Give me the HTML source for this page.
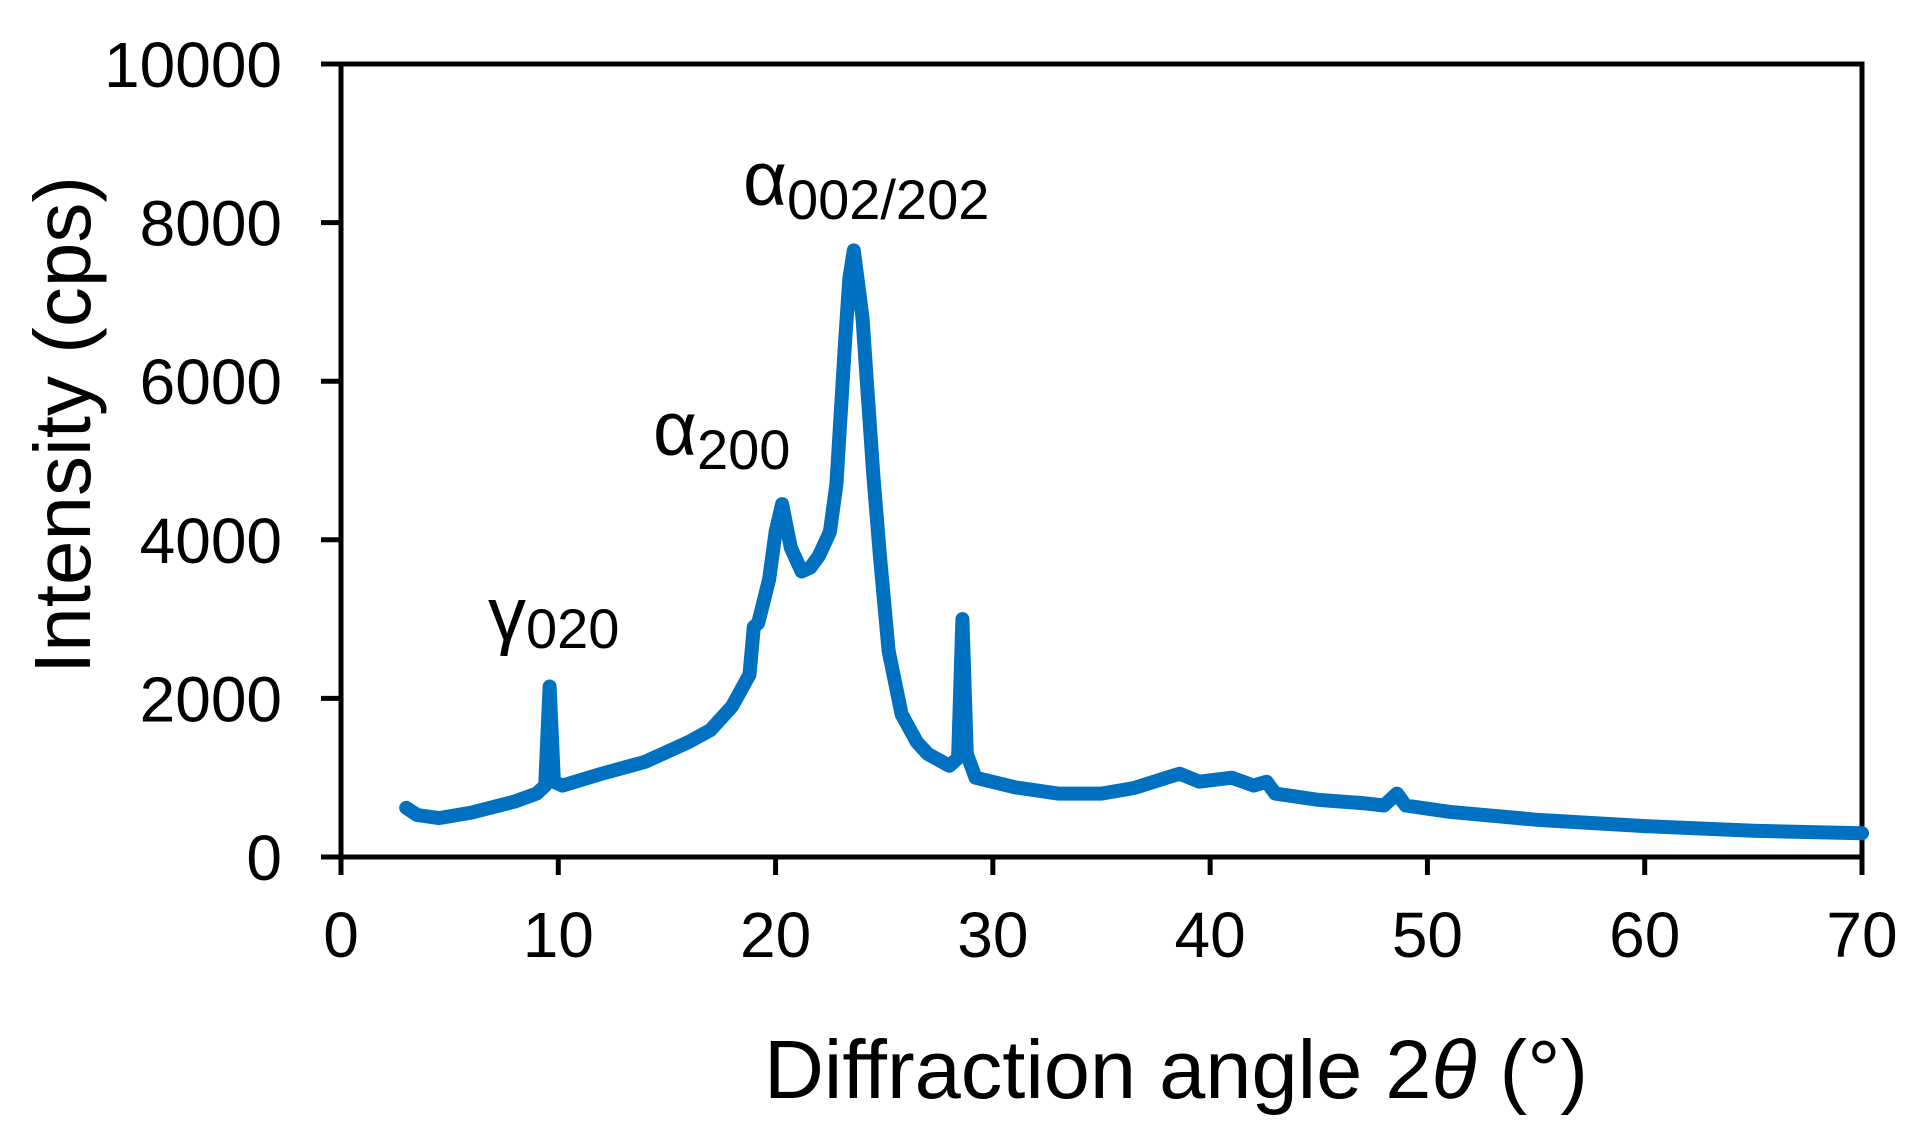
<!DOCTYPE html>
<html><head><meta charset="utf-8"><style>
html,body{margin:0;padding:0;background:#fff;width:1911px;height:1141px;overflow:hidden}
svg{display:block;font-family:"Liberation Sans",sans-serif}
</style></head><body>
<svg id="chart" width="1911" height="1141">
<g id="axes"></g><g id="series"></g>
<text transform="translate(90,425) rotate(-90)" text-anchor="middle" font-size="80">Intensity (cps)</text>
<text x="1176" y="1098" text-anchor="middle" font-size="83">Diffraction angle 2<tspan font-style="italic">θ</tspan> (°)</text>
<text x="488" y="640" font-size="76">γ<tspan font-size="56" dy="8">020</tspan></text>
<text x="653" y="455" font-size="76">α<tspan font-size="56" dy="14">200</tspan></text>
<text x="743" y="205" font-size="76">α<tspan font-size="56" dy="14">002/202</tspan></text>
</svg>
<script>
const xTicks=[0,10,20,30,40,50,60,70];
const yTicks=[0,2000,4000,6000,8000,10000];
const angles=[3,3.5,4.5,6,8,9,9.4,9.6,9.8,10.2,12,14,16,17,18,18.8,19,19.2,19.7,20,20.3,20.7,21.2,21.6,22,22.5,22.8,23.2,23.4,23.6,24,24.2,24.5,24.8,25.2,25.8,26.5,27,28,28.4,28.6,28.8,29.2,31,33,35,36.5,38,38.6,39.5,41,42,42.6,43,45,47,48,48.6,49,51,55,60,65,70];
const intensity=[620,530,490,560,700,800,900,2150,950,900,1050,1200,1450,1600,1900,2300,2900,2950,3500,4100,4450,3900,3600,3650,3800,4100,4700,6500,7300,7650,6800,6000,4800,3800,2600,1800,1450,1300,1150,1250,3000,1300,1000,880,800,800,870,1000,1050,950,1000,900,950,800,720,680,650,800,650,570,470,390,330,300];
const X0=341,X1=1862,Y0=857,Y1=64;
const sx=v=>X0+(v-0)/70*(X1-X0);
const sy=v=>Y0-(v/10000)*(Y0-Y1);
const NS="http://www.w3.org/2000/svg";
const axes=document.getElementById('axes');
function mk(t,a,p){const e=document.createElementNS(NS,t);for(const k in a)e.setAttribute(k,a[k]);p.appendChild(e);return e;}
const frame=mk('rect',{x:X0,y:Y1,width:X1-X0,height:Y0-Y1,fill:'none',stroke:'#000','stroke-width':5},axes);


xTicks.forEach(t=>{
 const l=mk('line',{x1:sx(t),x2:sx(t),y1:Y0,y2:Y0+18,stroke:'#000','stroke-width':5},axes);
 
 
 const tx=mk('text',{x:sx(t),y:957,'text-anchor':'middle','font-size':64},axes);
 tx.textContent=t;
 
 
});
yTicks.forEach(t=>{
 const l=mk('line',{x1:X0-20,x2:X0,y1:sy(t),y2:sy(t),stroke:'#000','stroke-width':5},axes);
 
 
 const tx=mk('text',{x:282,y:sy(t)+23,'text-anchor':'end','font-size':64},axes);
 tx.textContent=t;
 
 
});
const d=angles.map((a,i)=>(i?'L':'M')+sx(a).toFixed(1)+','+sy(intensity[i]).toFixed(1)).join('');
const p=mk('path',{d:d,fill:'none',stroke:'#0070C0','stroke-width':14,'stroke-linejoin':'round','stroke-linecap':'round'},document.getElementById('series'));


</script>
</body></html>
